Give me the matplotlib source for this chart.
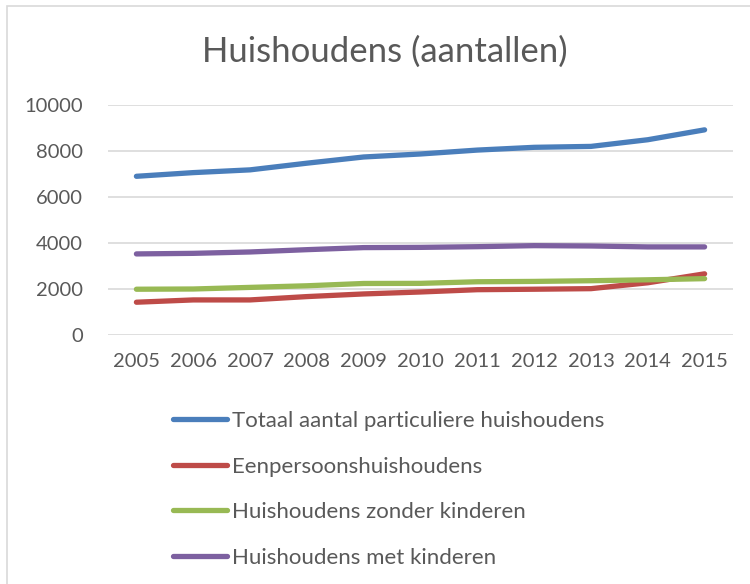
import matplotlib.pyplot as plt
from matplotlib.patches import Rectangle

plt.rcParams['font.family'] = ['Lato', 'DejaVu Sans']

years = ['2005', '2006', '2007', '2008', '2009', '2010', '2011', '2012', '2013', '2014', '2015']
totaal = [6900, 7060, 7180, 7470, 7740, 7870, 8040, 8160, 8200, 8490, 8920]
eenpersoons = [1425, 1525, 1525, 1670, 1785, 1870, 1970, 1990, 2015, 2270, 2660]
zonder_kinderen = [1990, 2000, 2070, 2140, 2240, 2245, 2315, 2330, 2360, 2400, 2450]
met_kinderen = [3525, 3550, 3610, 3710, 3800, 3810, 3840, 3885, 3870, 3830, 3830]

labels = ['Totaal aantal particuliere huishoudens', 'Eenpersoonshuishoudens',
          'Huishoudens zonder kinderen', 'Huishoudens met kinderen']
colors = ['#4A7EBB', '#BE4B48', '#98B954', '#7D60A0']
text_color = '#595959'

fig = plt.figure(figsize=(7.5, 5.84), dpi=100)
ax = fig.add_axes([108 / 750, 1 - 335 / 584, (733 - 108) / 750, (335 - 105) / 584])

x = range(len(years))
for series, lab, col in zip([totaal, eenpersoons, zonder_kinderen, met_kinderen], labels, colors):
    ax.plot(x, series, color=col, lw=3.8, label=lab, solid_capstyle='round', zorder=3)

ax.set_xlim(-0.5, len(years) - 0.5)
ax.set_ylim(0, 10000)
ax.set_yticks(range(0, 10001, 2000))
ax.set_xticks(list(x))
ax.set_xticklabels(years)
ax.grid(axis='y', color='#D9D9D9', lw=1.2)
ax.set_axisbelow(True)
for s in ax.spines.values():
    s.set_visible(False)
ax.tick_params(axis='both', length=0, labelsize=14.5, colors=text_color)
ax.tick_params(axis='y', pad=18)
ax.tick_params(axis='x', pad=13)

fig.text(385 / 750, 1 - 52 / 584, 'Huishoudens (aantallen)', ha='center', va='center',
         fontsize=25, color=text_color)

leg = fig.legend(loc='upper left', bbox_to_anchor=(153 / 750, 1 - 391 / 584), frameon=False,
                 fontsize=16, handlelength=2.45, handletextpad=0.22, labelspacing=1.15,
                 labelcolor=text_color)

# chart border (only top and left visible in the crop)
fig.add_artist(Rectangle((7 / 750, -0.1), 1.2, 1 - 6 / 584 + 0.1, transform=fig.transFigure,
                         fill=False, edgecolor='#D9D9D9', lw=1.2))

fig.savefig('out.png', dpi=100)
